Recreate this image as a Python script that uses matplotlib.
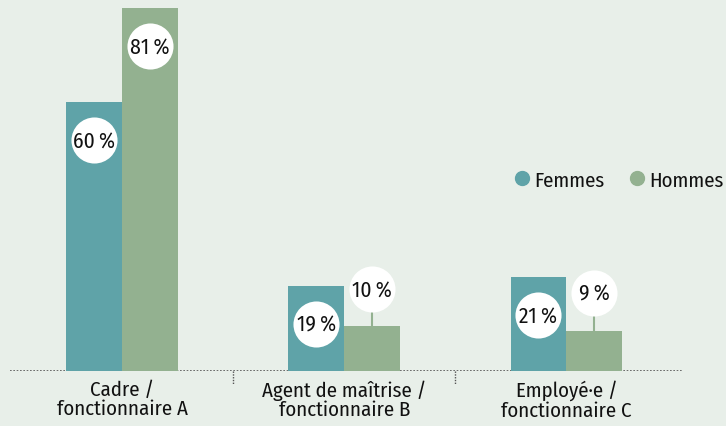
import matplotlib.pyplot as plt
from matplotlib.lines import Line2D

categories = ["Cadre /\nfonctionnaire A", "Agent de maîtrise /\nfonctionnaire B",
              "Employé·e /\nfonctionnaire C"]
femmes = [60, 19, 21]
hommes = [81, 10, 9]
series = ["Femmes", "Hommes"]

BG = "#e8efe9"
TEAL = "#5fa3a8"
GREEN = "#93b190"
INK = "#111111"

plt.rcParams["font.family"] = ["Fira Sans Condensed", "DejaVu Sans"]

fig = plt.figure(figsize=(7.26, 4.27), dpi=100, facecolor=BG)
ax = fig.add_axes([10 / 726, 55 / 427, 672 / 726, 363 / 427])
ax.set_facecolor(BG)
ax.set_xlim(-0.505, 2.52)
ax.set_ylim(0, 81)

w = 0.252
xs = range(len(categories))
for vals, off, col in [(femmes, -w / 2, TEAL), (hommes, w / 2, GREEN)]:
    for x, v in zip(xs, vals):
        bx = x + off
        ax.bar(bx, v, width=w, color=col, zorder=2)
        if v >= 15:
            cy = v - 8.5
        else:
            cy = v + 8.3
            ax.plot([bx, bx], [v, cy], color=col, lw=1.5, zorder=2)
        ax.scatter([bx], [cy], s=1100, color="white", zorder=3, clip_on=False,
                   linewidths=0)
        ax.text(bx, cy, f"{v}\u2009%", ha="center", va="center", fontsize=15.5,
                color=INK, zorder=4, clip_on=False)

for s in ax.spines.values():
    s.set_visible(False)
ax.axhline(0, color="#555555", lw=1.2, ls=(0, (1, 1)), zorder=1)
for sx in [0.5, 1.5]:
    ax.plot([sx, sx], [0, -3], color="#555555", lw=1, ls=(0, (1, 1)), clip_on=False)

ax.set_xticks(list(xs))
ax.set_xticklabels(categories, fontsize=15, color=INK, linespacing=1.0)
ax.tick_params(axis="x", length=0, pad=6)
ax.set_yticks([])

handles = [Line2D([], [], marker="o", ls="", markersize=10, color=c) for c in (TEAL, GREEN)]
fig.legend(handles, series, loc="center left", bbox_to_anchor=(514 / 726, 1 - 181 / 427),
           ncol=2, frameon=False, fontsize=15, handletextpad=0.2, columnspacing=1.2,
           handlelength=0.75, borderpad=0, borderaxespad=0, labelcolor=INK)

fig.savefig("out.png", dpi=100, facecolor=BG)
